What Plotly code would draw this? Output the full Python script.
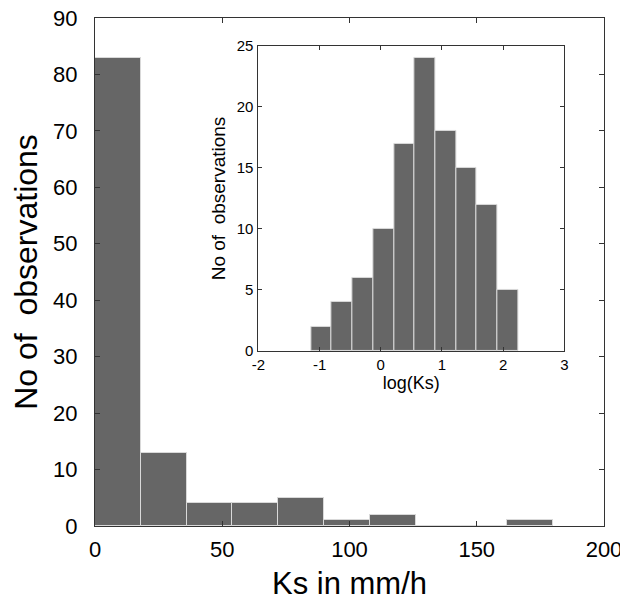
import plotly.graph_objects as go

# Main histogram: Ks in mm/h
main_bin_left = [0, 18, 36, 54, 72, 90, 108, 126, 144, 162]
main_bin_width = 18
main_counts = [83, 13, 4, 4, 5, 1, 2, 0, 0, 1]
main_xticks = [0, 50, 100, 150, 200]
main_yticks = [0, 10, 20, 30, 40, 50, 60, 70, 80, 90]

# Inset histogram: log(Ks)
inset_bin_left = [-1.139, -0.800, -0.462, -0.123, 0.216, 0.554, 0.893, 1.232, 1.570, 1.909]
inset_bin_width = 0.3387
inset_counts = [2, 4, 6, 10, 17, 24, 18, 15, 12, 5]
inset_xticks = [-2, -1, 0, 1, 2, 3]
inset_xticklabels = ["-2", "-1", "0", "1", "2", "3"]
inset_yticks = [0, 5, 10, 15, 20, 25]

bar_color = "#666666"
edge_color = "#d9d9d9"
frame = "#333333"
font = "Liberation Sans, Arial, sans-serif"

fig = go.Figure()
fig.add_trace(go.Bar(
    x=main_bin_left, y=main_counts, width=main_bin_width, offset=0,
    marker=dict(color=bar_color, line=dict(color=edge_color, width=1)),
    xaxis="x", yaxis="y", showlegend=False, hoverinfo="skip"))
fig.add_trace(go.Bar(
    x=inset_bin_left, y=inset_counts, width=inset_bin_width, offset=0,
    marker=dict(color=bar_color, line=dict(color=edge_color, width=1)),
    xaxis="x2", yaxis="y2", showlegend=False, hoverinfo="skip"))

axis_common = dict(showgrid=False, zeroline=False, showline=True, linecolor=frame,
                   linewidth=1, mirror="ticks", ticks="inside", tickcolor=frame,
                   automargin=False, ticklabeloverflow="allow")

# page body has an 8px default margin, so the figure is 8px smaller than the window
fig.update_layout(
    width=620, height=593,
    margin=dict(l=87, r=24, t=10, b=75),
    paper_bgcolor="white", plot_bgcolor="white",
    font=dict(family=font, color="black"),
    bargap=0,
    xaxis=dict(domain=[0, 1], range=[0, 200], tickvals=main_xticks, ticklen=5,
               tickfont=dict(size=22), ticklabelstandoff=4,
               title=dict(text="Ks in mm/h", font=dict(size=31), standoff=10),
               **axis_common),
    yaxis=dict(domain=[0, 1], range=[0, 90], tickvals=main_yticks, ticklen=5,
               tickfont=dict(size=22), ticklabelstandoff=12,
               title=dict(text="No of  observations", font=dict(size=32), standoff=9),
               **axis_common),
    xaxis2=dict(domain=[0.321, 0.922], range=[-2, 3], tickvals=inset_xticks,
                ticktext=inset_xticklabels, ticklen=4, ticklabelstandoff=0,
                anchor="y2", tickfont=dict(size=15),
                title=dict(text="log(Ks)", font=dict(size=18), standoff=2), **axis_common),
    yaxis2=dict(domain=[0.3445, 0.945], range=[0, 25], tickvals=inset_yticks, ticklen=4,
                anchor="x2", tickfont=dict(size=15), ticklabelstandoff=1,
                title=dict(text="No of  observations", font=dict(size=19), standoff=6), **axis_common),
)

fig.write_html("out.html")
